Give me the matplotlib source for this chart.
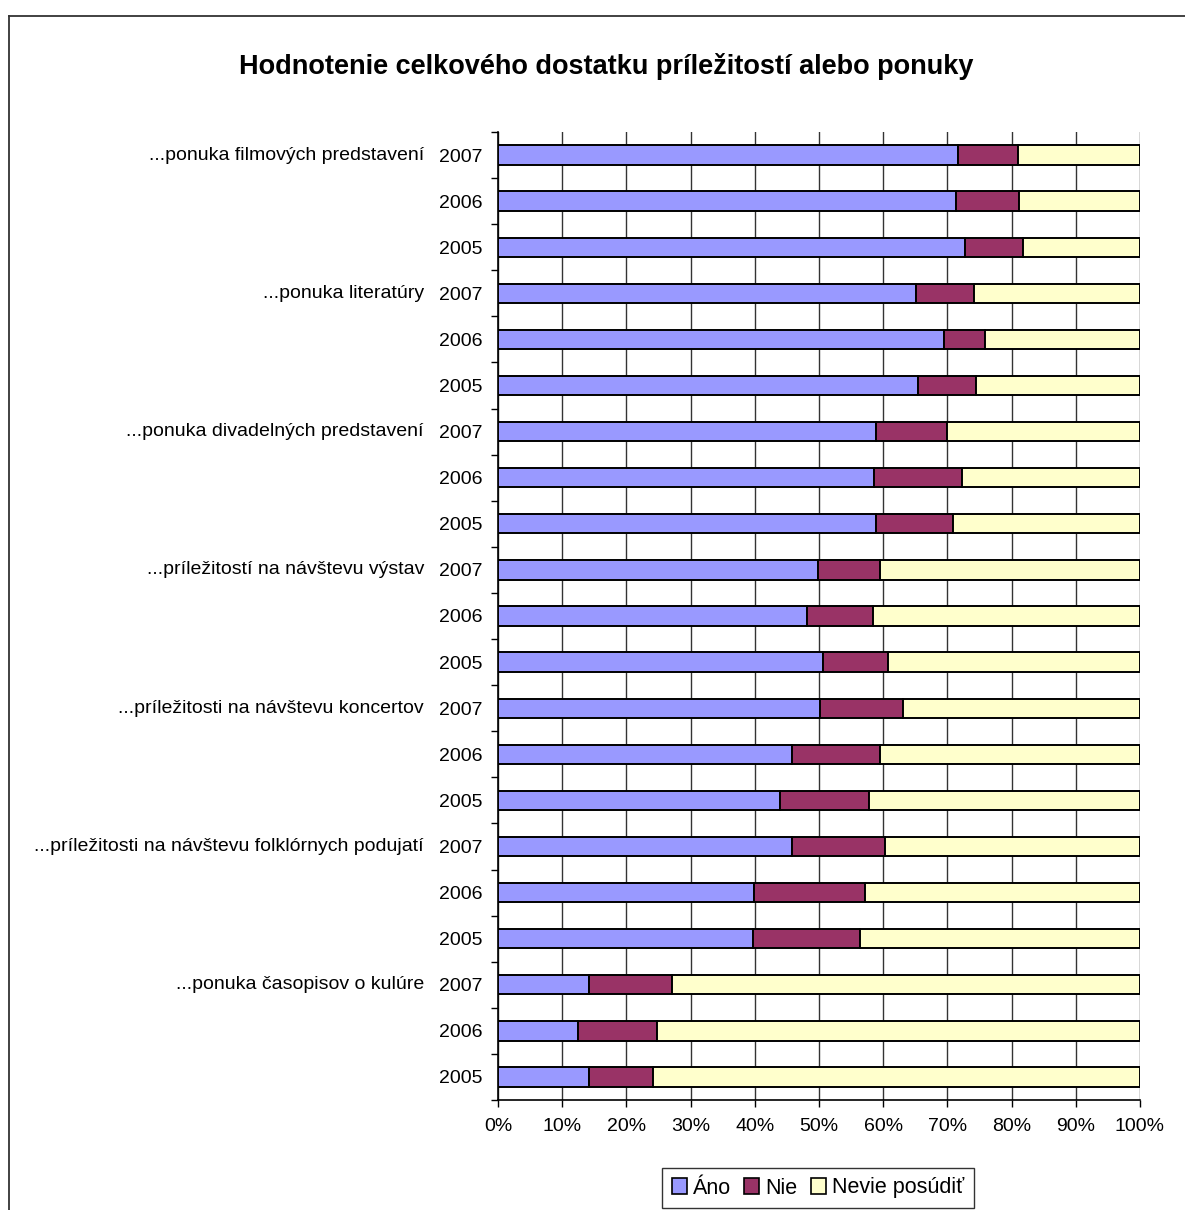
import numpy as np
import matplotlib
matplotlib.use("Agg")
import matplotlib.pyplot as plt
from matplotlib.patches import Patch
from matplotlib.lines import Line2D
from matplotlib.transforms import blended_transform_factory

plt.rcParams['font.family'] = ['Liberation Sans', 'DejaVu Sans']

# --- data, top to bottom ---
categories = [
    '...ponuka filmových predstavení',
    '...ponuka literatúry',
    '...ponuka divadelných predstavení',
    '...príležitostí na návštevu výstav',
    '...príležitosti na návštevu koncertov',
    '...príležitosti na návštevu folklórnych podujatí',
    '...ponuka časopisov o kulúre',
]
years = ['2007', '2006', '2005']

ano = [71.6, 71.3, 72.8,
       65.1, 69.4, 65.4,
       58.9, 58.6, 58.9,
       49.8, 48.1, 50.7,
       50.1, 45.8, 43.9,
       45.8, 39.9, 39.7,
       14.1, 12.4, 14.1]
nie = [9.4, 9.9, 9.0,
       9.1, 6.5, 9.1,
       11.0, 13.6, 11.9,
       9.7, 10.3, 10.0,
       13.0, 13.7, 13.9,
       14.5, 17.3, 16.7,
       13.0, 12.3, 10.0]
nevie = [100 - a - n for a, n in zip(ano, nie)]

series_names = ['Áno', 'Nie', 'Nevie posúdiť']
colors = ['#9999FF', '#993366', '#FFFFCC']

W, H = 1185, 1210
fig = plt.figure(figsize=(W / 100, H / 100), dpi=100)
ax = fig.add_axes([498 / W, 1 - 1100 / H, (1140 - 498) / W, (1100 - 132) / H])

n = len(ano)
y = np.arange(n)
left = np.zeros(n)
for vals, c in zip([ano, nie, nevie], colors):
    ax.barh(y, vals, left=left, height=0.42, color=c, edgecolor='black',
            linewidth=1.4, zorder=3)
    left = left + np.array(vals)

ax.set_xlim(0, 100)
ax.set_ylim(n - 0.5, -0.5)

# x axis
ax.set_xticks(np.arange(0, 101, 10))
ax.set_xticklabels([f'{v}%' for v in range(0, 101, 10)], fontsize=14)
ax.tick_params(axis='x', length=5, width=1, pad=8)
ax.grid(axis='x', color='#333333', linewidth=1, zorder=0)

# y axis: year labels at bar centres, ticks at group boundaries
ax.set_yticks(y)
ax.set_yticklabels(years * len(categories), fontsize=14)
ax.tick_params(axis='y', which='major', length=0, pad=10.8)
ax.set_yticks(np.arange(-0.5, n, 1), minor=True)
ax.tick_params(axis='y', which='minor', length=5, width=1)

for s in ['top', 'right']:
    ax.spines[s].set_visible(False)
ax.spines['left'].set_linewidth(1.2)
ax.spines['bottom'].set_linewidth(1.2)

# category labels
tr = blended_transform_factory(fig.transFigure, ax.transData)
for i, cat in enumerate(categories):
    ax.text(424 / W, i * 3, cat, transform=tr, ha='right', va='center',
            fontsize=14)

fig.text(606 / W, 1 - 66 / H,
         'Hodnotenie celkového dostatku príležitostí alebo ponuky',
         ha='center', va='center', fontsize=19.5, fontweight='bold')

# legend
handles = [Patch(facecolor=c, edgecolor='black', linewidth=1.2) for c in colors]
leg = fig.legend(handles, series_names, loc='center', ncol=3,
                 bbox_to_anchor=(818 / W, 1 - 1188 / H), fontsize=15.5,
                 frameon=True, fancybox=False, handlelength=0.7,
                 handleheight=0.7, handletextpad=0.3, columnspacing=0.6,
                 borderpad=0.45, borderaxespad=0)
leg.get_frame().set_edgecolor('black')
leg.get_frame().set_linewidth(1)

# outer chart frame (cropped on right and bottom)
fig.add_artist(Line2D([9 / W, 9 / W], [0, 1 - 16 / H], transform=fig.transFigure,
                      color='#333333', linewidth=1.3))
fig.add_artist(Line2D([9 / W, 1], [1 - 16 / H, 1 - 16 / H], transform=fig.transFigure,
                      color='#333333', linewidth=1.3))

fig.savefig('out.png', dpi=100)
